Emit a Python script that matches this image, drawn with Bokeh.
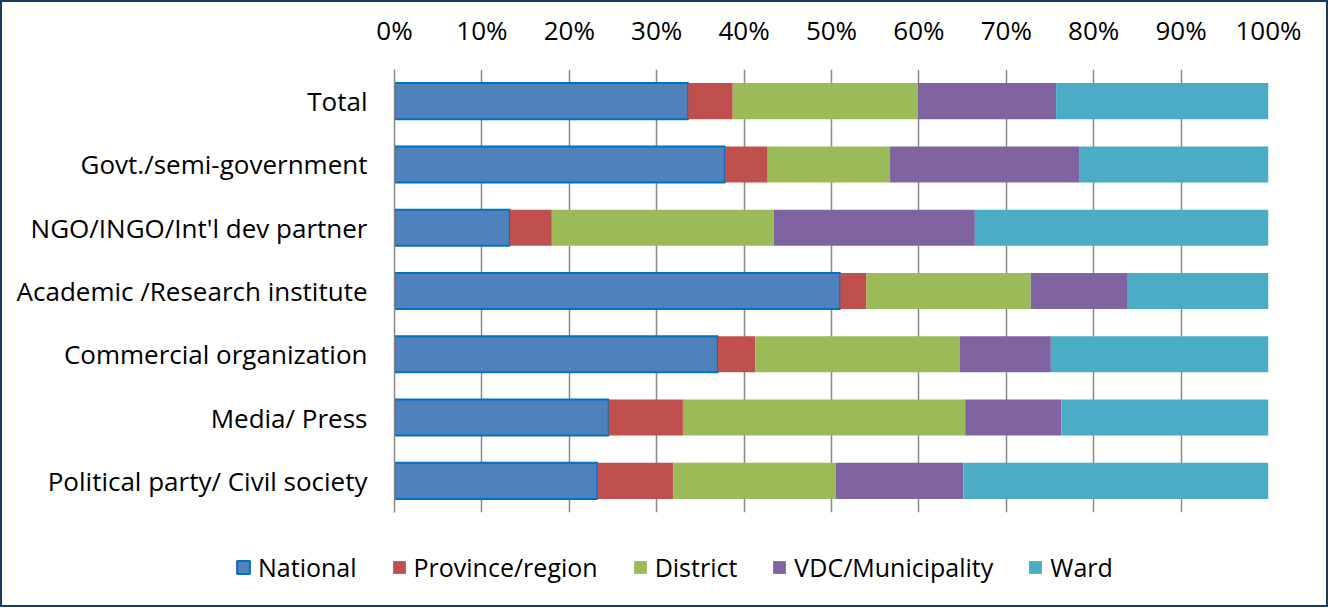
from bokeh.plotting import figure
from bokeh.layouts import column
from bokeh.models import FactorRange, Range1d, Legend, LegendItem, FixedTicker
from bokeh.embed import file_html
from bokeh.resources import INLINE

categories = ["Total", "Govt./semi-government", "NGO/INGO/Int'l dev partner",
              "Academic /Research institute", "Commercial organization",
              "Media/ Press", "Political party/ Civil society"]
series = ["National", "Province/region", "District", "VDC/Municipality", "Ward"]
national = [33.6, 37.8, 13.2, 51.0, 37.0, 24.5, 23.2]
province = [5.1, 4.9, 4.8, 3.0, 4.3, 8.5, 8.7]
district = [21.2, 14.0, 25.4, 18.8, 23.4, 32.3, 18.6]
vdc = [15.8, 21.7, 23.0, 11.1, 10.4, 11.0, 14.6]
ward = [24.3, 21.6, 33.6, 16.1, 24.9, 23.7, 34.9]
tick_values = [0, 10, 20, 30, 40, 50, 60, 70, 80, 90, 100]
tick_labels = ["0%", "10%", "20%", "30%", "40%", "50%", "60%", "70%", "80%", "90%", "100%"]

colors = ["#4F81BD", "#C0504D", "#9BBB59", "#8064A2", "#4BACC6"]
line_colors = ["#0070C0", None, None, None, None]
line_widths = [2, 0, 0, 0, 0]
FONT = "Open Sans"
FS = "26px"

data = dict(cat=categories, National=national, **{"Province/region": province},
            District=district, **{"VDC/Municipality": vdc}, Ward=ward)

p = figure(width=1324, height=545, output_backend="svg", toolbar_location=None,
           y_range=FactorRange(factors=list(reversed(categories))),
           x_range=Range1d(0, 100), x_axis_location="above",
           min_border_left=392, min_border_right=58, min_border_top=67,
           min_border_bottom=35, frame_align=False)

p.hbar_stack(series, y="cat", height=0.57, source=data,
             color=colors, line_color=line_colors, line_width=line_widths)

p.outline_line_color = None
p.ygrid.grid_line_color = None
p.xgrid.grid_line_color = "#898989"
p.xgrid.grid_line_width = 1.5
p.xgrid.level = "underlay"

xa = p.xaxis[0]
xa.ticker = FixedTicker(ticks=tick_values)
xa.major_label_overrides = {v: l for v, l in zip(tick_values, tick_labels)}
xa.axis_line_color = None
xa.major_tick_line_color = None
xa.minor_tick_line_color = None
xa.major_label_text_font = FONT
xa.major_label_text_font_size = FS
xa.major_label_text_color = "#000000"
xa.major_label_standoff = 16

ya = p.yaxis[0]
ya.axis_line_color = "#898989"
ya.axis_line_width = 1.5
ya.major_tick_line_color = None
ya.minor_tick_line_color = None
ya.major_label_text_font = FONT
ya.major_label_text_font_size = FS
ya.major_label_text_color = "#000000"
ya.major_label_standoff = 21

# legend strip (separate canvas so the legend is not clipped by the bar frame)
p2 = figure(width=1324, height=58, output_backend="svg", toolbar_location=None,
            x_range=Range1d(0, 1), y_range=Range1d(0, 1), frame_align=False,
            min_border_left=0, min_border_right=0, min_border_top=0, min_border_bottom=0)
p2.axis.visible = False
p2.grid.visible = False
p2.outline_line_color = None
# off-range proxies: only used to draw the legend swatches
legend_renderers = [p2.rect(x=[-5], y=[-5], width=0.1, height=0.1,
                            fill_color=c, line_color=lc, line_width=lw)
                    for c, lc, lw in zip(colors, line_colors, line_widths)]

legend = Legend(items=[LegendItem(label=s, renderers=[r]) for s, r in zip(series, legend_renderers)],
                orientation="horizontal", location=(233, 21),
                glyph_width=16, glyph_height=16, label_standoff=7, spacing=34,
                padding=0, margin=0, border_line_color=None, background_fill_alpha=0,
                label_text_font=FONT, label_text_font_size="25px", label_text_color="#000000")
p2.add_layout(legend, "center")

layout = column(p, p2, spacing=0, styles={"border": "2px solid #1F3864"})

open("out.html", "w").write(file_html(layout, INLINE))
